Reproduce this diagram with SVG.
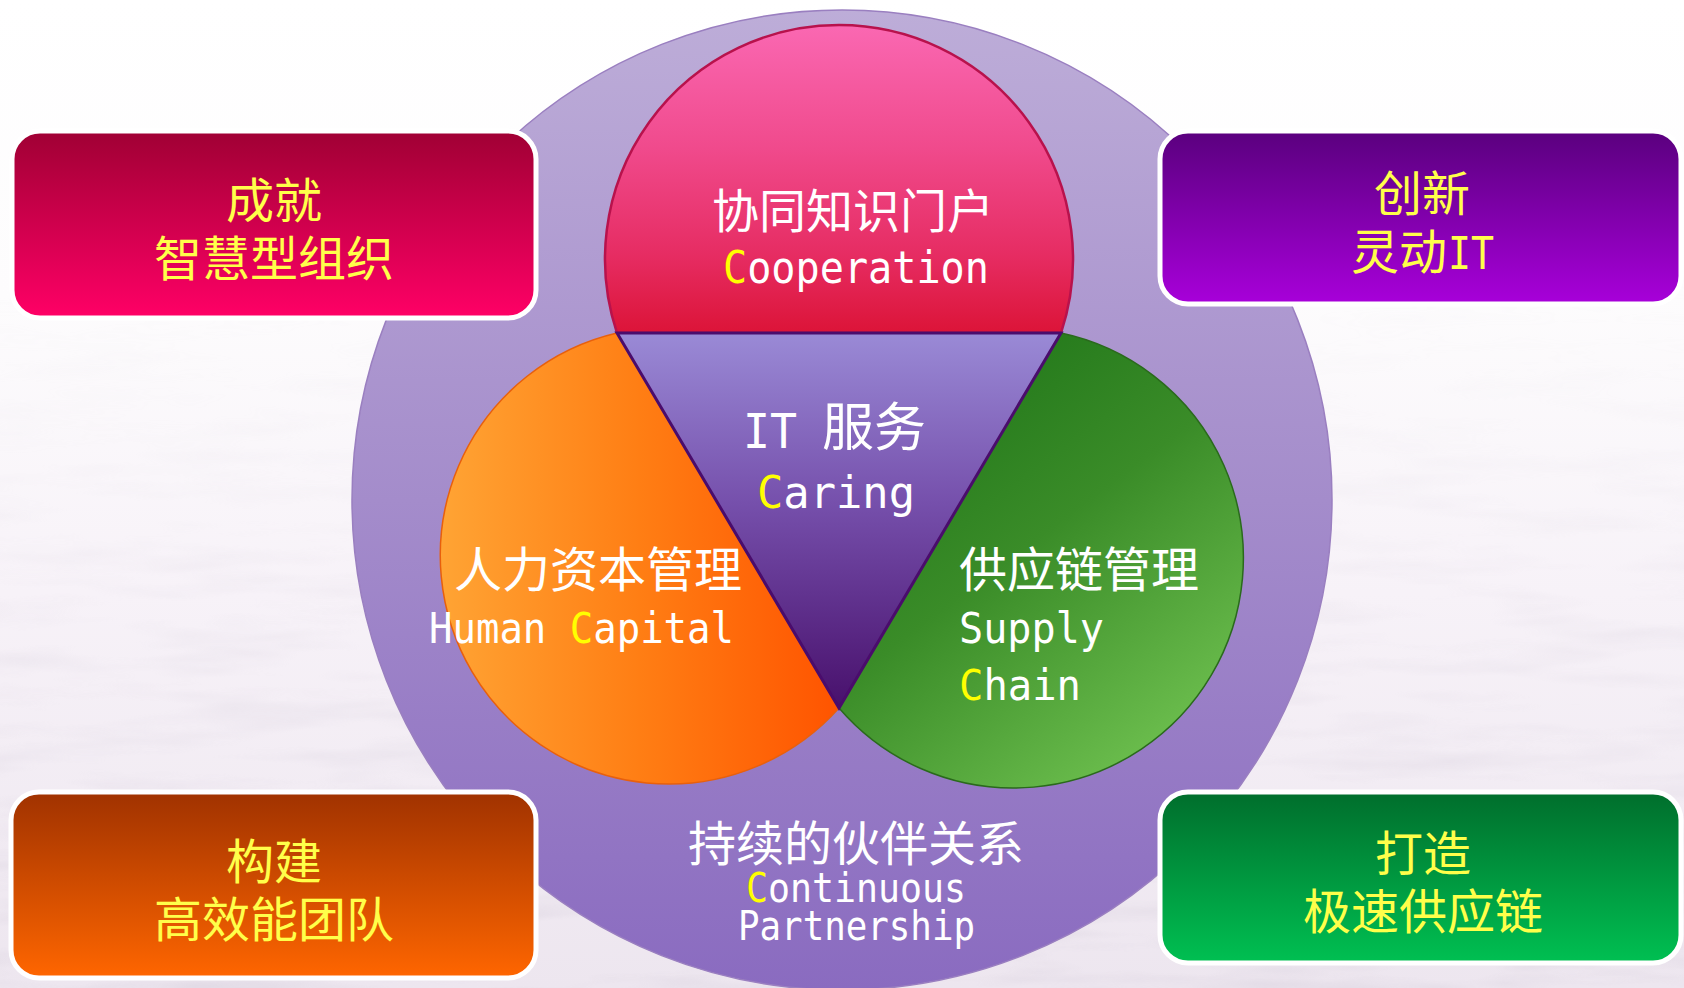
<svg xmlns="http://www.w3.org/2000/svg" width="1684" height="988" viewBox="0 0 1684 988">
  <defs>
    <linearGradient id="bgGrad" x1="0" y1="0" x2="0" y2="1">
      <stop offset="0" stop-color="#ffffff"/>
      <stop offset="0.3" stop-color="#fdfcfd"/>
      <stop offset="0.6" stop-color="#f7f2f8"/>
      <stop offset="1" stop-color="#ede6ef"/>
    </linearGradient>
    <filter id="texture" x="0" y="0" width="100%" height="100%">
      <feTurbulence type="fractalNoise" baseFrequency="0.006 0.04" numOctaves="3" seed="7" result="n"/>
      <feColorMatrix in="n" type="matrix" values="0 0 0 0 0.55  0 0 0 0 0.5  0 0 0 0 0.6  0 0 0 -1.6 0.9" />
    </filter>
    <linearGradient id="texMask" x1="0" y1="0" x2="0" y2="1">
      <stop offset="0.25" stop-color="#fff" stop-opacity="0"/>
      <stop offset="1" stop-color="#fff" stop-opacity="1"/>
    </linearGradient>
    <mask id="texM"><rect width="1684" height="988" fill="url(#texMask)"/></mask>

    <linearGradient id="bigGrad" x1="0" y1="0" x2="0" y2="1">
      <stop offset="0" stop-color="#bdadd8"/>
      <stop offset="0.5" stop-color="#a48ccb"/>
      <stop offset="1" stop-color="#8a6bc0"/>
    </linearGradient>
    <linearGradient id="pinkGrad" x1="0" y1="25" x2="0" y2="333" gradientUnits="userSpaceOnUse">
      <stop offset="0" stop-color="#fa68b2"/>
      <stop offset="0.4" stop-color="#f04a8c"/>
      <stop offset="0.75" stop-color="#e62c62"/>
      <stop offset="1" stop-color="#dc1438"/>
    </linearGradient>
    <linearGradient id="triGrad" x1="0" y1="333" x2="0" y2="708" gradientUnits="userSpaceOnUse">
      <stop offset="0" stop-color="#9a8ad6"/>
      <stop offset="0.45" stop-color="#7650ac"/>
      <stop offset="1" stop-color="#48106c"/>
    </linearGradient>
    <linearGradient id="orangeGrad" x1="440" y1="0" x2="839" y2="0" gradientUnits="userSpaceOnUse">
      <stop offset="0" stop-color="#ffa434"/>
      <stop offset="0.5" stop-color="#ff7e14"/>
      <stop offset="1" stop-color="#ff5400"/>
    </linearGradient>
    <linearGradient id="greenGrad" x1="900" y1="360" x2="1200" y2="760" gradientUnits="userSpaceOnUse">
      <stop offset="0" stop-color="#1e7418"/>
      <stop offset="0.45" stop-color="#3a8c28"/>
      <stop offset="1" stop-color="#72c452"/>
    </linearGradient>

    <linearGradient id="gTL" x1="0" y1="0" x2="0" y2="1">
      <stop offset="0" stop-color="#a00034"/>
      <stop offset="1" stop-color="#ff0066"/>
    </linearGradient>
    <linearGradient id="gTR" x1="0" y1="0" x2="0" y2="1">
      <stop offset="0" stop-color="#5a007e"/>
      <stop offset="1" stop-color="#a800da"/>
    </linearGradient>
    <linearGradient id="gBL" x1="0" y1="0" x2="0" y2="1">
      <stop offset="0" stop-color="#a03200"/>
      <stop offset="1" stop-color="#ff6600"/>
    </linearGradient>
    <linearGradient id="gBR" x1="0" y1="0" x2="0" y2="1">
      <stop offset="0" stop-color="#006e2c"/>
      <stop offset="1" stop-color="#00c052"/>
    </linearGradient>
    <style>
      .box { stroke: #ffffff; stroke-width: 5; }
      .boxText { font-family: "Noto Sans CJK SC", "Liberation Sans", sans-serif; font-size: 48px; fill: #ffff4a; text-anchor: middle; }
      .cjk { font-family: "Noto Sans CJK SC", "Liberation Sans", sans-serif; fill: #ffffff; font-size: 48px; }
      .lat { font-family: "DejaVu Sans Mono", "Liberation Mono", monospace; fill: #ffffff; }
      .y { fill: #ffff00; }
    </style>
  </defs>

  <!-- background -->
  <rect x="0" y="0" width="1684" height="988" fill="url(#bgGrad)"/>
  <rect x="0" y="0" width="1684" height="988" filter="url(#texture)" mask="url(#texM)" opacity="0.35"/>

  <g id="outer-circle">
    <circle cx="842" cy="500" r="490" fill="url(#bigGrad)" stroke="#9a7fc0" stroke-width="1.5"/>
  </g>

  <g id="node-cooperation">
    <path d="M 617 333 A 234 234 0 1 1 1061 333 Z" fill="url(#pinkGrad)" stroke="#b8124c" stroke-width="2.5"/>
    <text class="cjk" x="853" y="228" text-anchor="middle" style="font-size:47px">协同知识门户</text>
    <text class="lat" x="723" y="283" font-size="45" textLength="266" lengthAdjust="spacingAndGlyphs"><tspan class="y">C</tspan>ooperation</text>
  </g>

  <g id="node-human-capital">
    <path d="M 617 333 A 228.5 228.5 0 1 0 839 708 Z" fill="url(#orangeGrad)" stroke="#e8600c" stroke-width="1.5"/>
    <text class="cjk" x="454" y="587">人力资本管理</text>
    <text class="lat" x="429" y="643" font-size="43" textLength="305" lengthAdjust="spacingAndGlyphs">Human <tspan class="y">C</tspan>apital</text>
  </g>

  <g id="node-supply-chain">
    <path d="M 1061 333 A 230 230 0 1 1 839 708 Z" fill="url(#greenGrad)" stroke="#2a6a1c" stroke-width="1.5"/>
    <text class="cjk" x="959" y="587">供应链管理</text>
    <text class="lat" x="959" y="643" font-size="43" textLength="145" lengthAdjust="spacingAndGlyphs">Supply</text>
    <text class="lat" x="959" y="700" font-size="43" textLength="122" lengthAdjust="spacingAndGlyphs"><tspan class="y">C</tspan>hain</text>
  </g>

  <g id="node-it-service">
    <path d="M 617 333 L 1061 333 L 839 708 Z" fill="url(#triGrad)" stroke="#4a0c6c" stroke-width="3" stroke-linejoin="miter"/>
    <text class="lat" x="743" y="448" font-size="48" textLength="54" lengthAdjust="spacingAndGlyphs">IT</text>
    <text class="cjk" x="822" y="446" style="font-size:52px">服务</text>
    <text class="lat" x="757" y="508" font-size="45" textLength="158" lengthAdjust="spacingAndGlyphs"><tspan class="y">C</tspan>aring</text>
  </g>

  <g id="node-partnership">
    <text class="cjk" x="688" y="861">持续的伙伴关系</text>
    <text class="lat" x="746" y="902" font-size="41" textLength="220" lengthAdjust="spacingAndGlyphs"><tspan class="y">C</tspan>ontinuous</text>
    <text class="lat" x="738" y="940" font-size="41" textLength="237" lengthAdjust="spacingAndGlyphs">Partnership</text>
  </g>

  <g id="box-top-left">
    <rect class="box" x="12" y="131" width="524" height="187" rx="28" fill="url(#gTL)"/>
    <text class="boxText" x="274" y="218">成就</text>
    <text class="boxText" x="274" y="276">智慧型组织</text>
  </g>

  <g id="box-top-right">
    <rect class="box" x="1160" y="131" width="521" height="173" rx="28" fill="url(#gTR)"/>
    <text class="boxText" x="1422" y="211">创新</text>
    <text class="boxText" x="1399" y="269">灵动</text>
    <text class="lat" x="1448" y="269" font-size="45" textLength="46" lengthAdjust="spacingAndGlyphs" style="fill:#ffff4a">IT</text>
  </g>

  <g id="box-bottom-left">
    <rect class="box" x="11" y="792" width="525" height="186" rx="28" fill="url(#gBL)"/>
    <text class="boxText" x="274" y="879">构建</text>
    <text class="boxText" x="274" y="937">高效能团队</text>
  </g>

  <g id="box-bottom-right">
    <rect class="box" x="1160" y="792" width="521" height="171" rx="28" fill="url(#gBR)"/>
    <text class="boxText" x="1423" y="871">打造</text>
    <text class="boxText" x="1423" y="929">极速供应链</text>
  </g>

  <g id="connectors"/>
</svg>
